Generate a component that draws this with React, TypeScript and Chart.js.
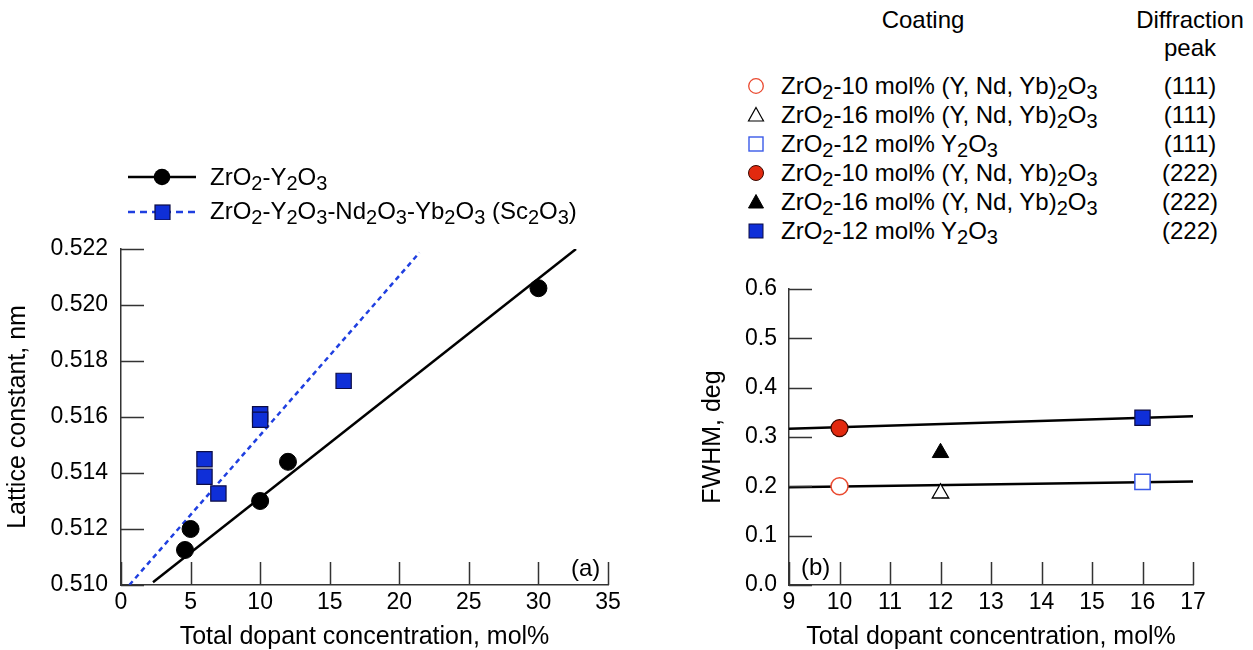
import React, { useEffect, useRef } from 'react';
import { Chart, registerables } from 'chart.js';
Chart.register(...registerables);

const FONT = '"Liberation Sans", Arial, Helvetica, sans-serif';
const INK = '#000';

// ---------- Panel (a) data ----------
const aTitleX = 'Total dopant concentration, mol%';
const aTitleY = 'Lattice constant, nm';
const aY2O3X = [4.6, 5.0, 10.0, 12.0, 30.0];
const aY2O3Y = [0.51125, 0.5120, 0.5130, 0.5144, 0.5206];
const aMixX = [6.0, 6.0, 7.0, 10.0, 10.0, 16.0];
const aMixY = [0.51449, 0.51387, 0.51327, 0.5161, 0.5159, 0.51729];
const aFitY2O3X = [2.3, 32.7];
const aFitY2O3Y = [0.5101, 0.522];
const aFitMixX = [0.6, 21.45];
const aFitMixY = [0.510, 0.52187];
const aLegendLabels = ['ZrO_2-Y_2O_3', 'ZrO_2-Y_2O_3-Nd_2O_3-Yb_2O_3 (Sc_2O_3)'];

// ---------- Panel (b) data ----------
const bTitleX = 'Total dopant concentration, mol%';
const bTitleY = 'FWHM, deg';
const bOpenCircleX = [10]; const bOpenCircleY = [0.2];
const bOpenTriangleX = [12]; const bOpenTriangleY = [0.186];
const bOpenSquareX = [16]; const bOpenSquareY = [0.209];
const bFilledCircleX = [10]; const bFilledCircleY = [0.318];
const bFilledTriangleX = [12]; const bFilledTriangleY = [0.268];
const bFilledSquareX = [16]; const bFilledSquareY = [0.339];
const bFitUpperX = [9, 17]; const bFitUpperY = [0.3165, 0.342];
const bFitLowerX = [9, 17]; const bFitLowerY = [0.198, 0.21];
const bLegendHeaders = ['Coating', 'Diffraction', 'peak'];
const bLegendLabels = [
  'ZrO_2-10 mol% (Y, Nd, Yb)_2O_3',
  'ZrO_2-16 mol% (Y, Nd, Yb)_2O_3',
  'ZrO_2-12 mol% Y_2O_3',
  'ZrO_2-10 mol% (Y, Nd, Yb)_2O_3',
  'ZrO_2-16 mol% (Y, Nd, Yb)_2O_3',
  'ZrO_2-12 mol% Y_2O_3',
];
const bLegendPeaks = ['(111)', '(111)', '(111)', '(222)', '(222)', '(222)'];

const RED = '#e2290f';
const RED_OPEN = '#ea4a30';
const BLUE = '#0f2fd8';
const BLUE_OPEN = '#3a5ae8';
const BLUE_EDGE = '#0c0c45';

const pts = (xs: number[], ys: number[]) => xs.map((x, i) => ({ x, y: ys[i] }));

const innerTicks = {
  id: 'innerTicks',
  afterDraw(chart: any) {
    const { ctx, chartArea } = chart;
    const xs = chart.scales.x;
    const ys = chart.scales.y;
    const len = 23;
    ctx.save();
    ctx.strokeStyle = '#333';
    ctx.lineWidth = 1.5;
    ctx.beginPath();
    xs.ticks.forEach((t: any) => {
      const px = Math.round(xs.getPixelForValue(t.value)) + 0.5;
      ctx.moveTo(px, chartArea.bottom);
      ctx.lineTo(px, chartArea.bottom - len);
    });
    ys.ticks.forEach((t: any) => {
      const py = Math.round(ys.getPixelForValue(t.value)) + 0.5;
      ctx.moveTo(chartArea.left, py);
      ctx.lineTo(chartArea.left + len, py);
    });
    ctx.stroke();
    ctx.restore();
  },
};

function axis(opts: any) {
  return {
    type: 'linear',
    min: opts.min,
    max: opts.max,
    ticks: {
      stepSize: opts.step,
      padding: opts.pad,
      color: INK,
      font: { family: FONT, size: 23 },
      callback: opts.fmt,
    },
    grid: { drawOnChartArea: false, drawTicks: false },
    border: { display: true, color: '#333', width: 1.5 },
    title: {
      display: true,
      text: opts.title,
      color: INK,
      font: { family: FONT, size: 25, lineHeight: 1 },
      padding: opts.titlePad,
    },
    afterFit: opts.fit,
  };
}

function ChartBox({ left, top, width, height, config }: any) {
  const ref = useRef<HTMLCanvasElement>(null);
  useEffect(() => {
    const chart = new Chart(ref.current as HTMLCanvasElement, config());
    return () => chart.destroy();
  }, []);
  return (
    <div style={{ position: 'absolute', left, top, width, height }}>
      <canvas ref={ref} width={width} height={height} style={{ width, height, display: 'block' }} />
    </div>
  );
}

const baseOptions = {
  responsive: false,
  animation: false,
  events: [],
  plugins: { legend: { display: false }, tooltip: { enabled: false } },
};

const configA = () => ({
  type: 'scatter',
  data: {
    datasets: [
      { data: pts(aY2O3X, aY2O3Y), pointStyle: 'circle', pointRadius: 8.5, backgroundColor: '#000', borderColor: '#000', borderWidth: 1 },
      { data: pts(aMixX, aMixY), pointStyle: 'rect', pointRadius: 10.8, backgroundColor: BLUE, borderColor: BLUE_EDGE, borderWidth: 1.2 },
      { data: pts(aFitY2O3X, aFitY2O3Y), showLine: true, pointRadius: 0, borderColor: '#000', borderWidth: 2.5 },
      { data: pts(aFitMixX, aFitMixY), showLine: true, pointRadius: 0, borderColor: '#1f3fe0', borderWidth: 2.5, borderDash: [5, 4] },
    ],
  },
  options: {
    ...baseOptions,
    layout: { padding: { left: 0, top: 49, right: 32, bottom: 0 } },
    scales: {
      x: axis({ min: 0, max: 35, step: 5, pad: 4, title: aTitleX, titlePad: { top: 0, bottom: 0 }, fit: (s: any) => { s.height = 65; } }),
      y: axis({ min: 0.51, max: 0.522, step: 0.002, pad: 13, fmt: (v: number) => v.toFixed(3), title: aTitleY, titlePad: { top: 5.5, bottom: 0 }, fit: (s: any) => { s.width = 121; } }),
    },
  },
  plugins: [innerTicks],
});

const configB = () => ({
  type: 'scatter',
  data: {
    datasets: [
      { data: pts(bFilledCircleX, bFilledCircleY), pointStyle: 'circle', pointRadius: 8.5, backgroundColor: RED, borderColor: '#3a0800', borderWidth: 1.2 },
      { data: pts(bFilledSquareX, bFilledSquareY), pointStyle: 'rect', pointRadius: 10.8, backgroundColor: BLUE, borderColor: BLUE_EDGE, borderWidth: 1.2 },
      { data: pts(bFilledTriangleX, bFilledTriangleY), pointStyle: 'triangle', pointRadius: 9.5, backgroundColor: '#000', borderColor: '#000', borderWidth: 1 },
      { data: pts(bOpenCircleX, bOpenCircleY), pointStyle: 'circle', pointRadius: 8.5, backgroundColor: '#fff', borderColor: RED_OPEN, borderWidth: 1.5 },
      { data: pts(bOpenTriangleX, bOpenTriangleY), pointStyle: 'triangle', pointRadius: 9.5, backgroundColor: '#fff', borderColor: '#000', borderWidth: 1.3 },
      { data: pts(bOpenSquareX, bOpenSquareY), pointStyle: 'rect', pointRadius: 10.8, backgroundColor: '#fff', borderColor: BLUE_OPEN, borderWidth: 1.5 },
      { data: pts(bFitUpperX, bFitUpperY), showLine: true, pointRadius: 0, borderColor: '#000', borderWidth: 2.5 },
      { data: pts(bFitLowerX, bFitLowerY), showLine: true, pointRadius: 0, borderColor: '#000', borderWidth: 2.5 },
    ],
  },
  options: {
    ...baseOptions,
    layout: { padding: { left: 0, top: 29, right: 60, bottom: 0 } },
    scales: {
      x: axis({ min: 9, max: 17, step: 1, pad: 4, title: bTitleX, titlePad: { top: 0, bottom: 0 }, fit: (s: any) => { s.height = 65; } }),
      y: axis({ min: 0, max: 0.6, step: 0.1, pad: 12, fmt: (v: number) => v.toFixed(1), title: bTitleY, titlePad: { top: 20.5, bottom: 0 }, fit: (s: any) => { s.width = 109; } }),
    },
  },
  plugins: [innerTicks],
});

function Chem({ text }: { text: string }) {
  const parts = text.split(/(_\d)/);
  return (
    <>
      {parts.map((p, i) =>
        p.startsWith('_') ? (
          <span key={i} style={{ fontSize: 20, position: 'relative', top: 5 }}>{p.slice(1)}</span>
        ) : (
          <span key={i}>{p}</span>
        )
      )}
    </>
  );
}

function Label({ x, y, children, align = 'left', size = 24 }: any) {
  const tx = align === 'center' ? '-50%' : align === 'right' ? '-100%' : '0';
  return (
    <div
      style={{
        position: 'absolute',
        left: x,
        top: y,
        transform: `translate(${tx}, -50%)`,
        fontSize: size,
        lineHeight: '24px',
        whiteSpace: 'nowrap',
        color: INK,
      }}
    >
      {children}
    </div>
  );
}

function Marker({ x, y, kind }: any) {
  const s = 22;
  let shape: any = null;
  if (kind === 'openCircle') shape = <circle cx={11} cy={11} r={7.3} fill="#fff" stroke={RED_OPEN} strokeWidth={1.3} />;
  if (kind === 'openTriangle') shape = <polygon points="11,3.5 18.5,17 3.5,17" fill="#fff" stroke="#000" strokeWidth={1.2} />;
  if (kind === 'openSquare') shape = <rect x={4} y={4} width={14} height={14} fill="#fff" stroke={BLUE_OPEN} strokeWidth={1.4} />;
  if (kind === 'filledCircle') shape = <circle cx={11} cy={11} r={7.5} fill={RED} stroke="#3a0800" strokeWidth={1} />;
  if (kind === 'filledTriangle') shape = <polygon points="11,3.5 18.5,17 3.5,17" fill="#000" stroke="#000" strokeWidth={1} />;
  if (kind === 'filledSquare') shape = <rect x={4} y={4} width={14} height={14} fill={BLUE} stroke={BLUE_EDGE} strokeWidth={1} />;
  return (
    <svg width={s} height={s} style={{ position: 'absolute', left: x - s / 2, top: y - s / 2 }}>
      {shape}
    </svg>
  );
}

const bMarkerKinds = ['openCircle', 'openTriangle', 'openSquare', 'filledCircle', 'filledTriangle', 'filledSquare'];

export default function App() {
  const rowY = (i: number) => 86 + i * 28.9;
  return (
    <div
      style={{
        position: 'absolute',
        left: 0,
        top: 0,
        width: 1253,
        height: 650,
        overflow: 'hidden',
        background: '#fff',
        fontFamily: FONT,
      }}
    >
      <ChartBox left={0} top={200} width={640} height={450} config={configA} />
      <ChartBox left={680} top={260} width={573} height={390} config={configB} />

      {/* Legend (a) */}
      <svg width={80} height={60} style={{ position: 'absolute', left: 122, top: 160 }}>
        <line x1={6} y1={17} x2={74} y2={17} stroke="#000" strokeWidth={2.5} />
        <circle cx={40} cy={17} r={8.3} fill="#000" />
        <line x1={6} y1={52} x2={74} y2={52} stroke="#1f3fe0" strokeWidth={2.5} strokeDasharray="7 5" />
        <rect x={33} y={45} width={15} height={15} fill={BLUE} stroke={BLUE_EDGE} strokeWidth={1.2} />
      </svg>
      <Label x={210} y={177}><Chem text={aLegendLabels[0]} /></Label>
      <Label x={210} y={211}><Chem text={aLegendLabels[1]} /></Label>
      <Label x={571} y={568}>(a)</Label>
      <Label x={801} y={567}>(b)</Label>

      {/* Legend (b) */}
      <Label x={923} y={20} align="center">{bLegendHeaders[0]}</Label>
      <Label x={1190} y={20} align="center">{bLegendHeaders[1]}</Label>
      <Label x={1190} y={48} align="center">{bLegendHeaders[2]}</Label>
      {bLegendLabels.map((t, i) => (
        <React.Fragment key={i}>
          <Marker x={756} y={rowY(i)} kind={bMarkerKinds[i]} />
          <Label x={781} y={rowY(i)}><Chem text={t} /></Label>
          <Label x={1190} y={rowY(i)} align="center">{bLegendPeaks[i]}</Label>
        </React.Fragment>
      ))}
    </div>
  );
}
